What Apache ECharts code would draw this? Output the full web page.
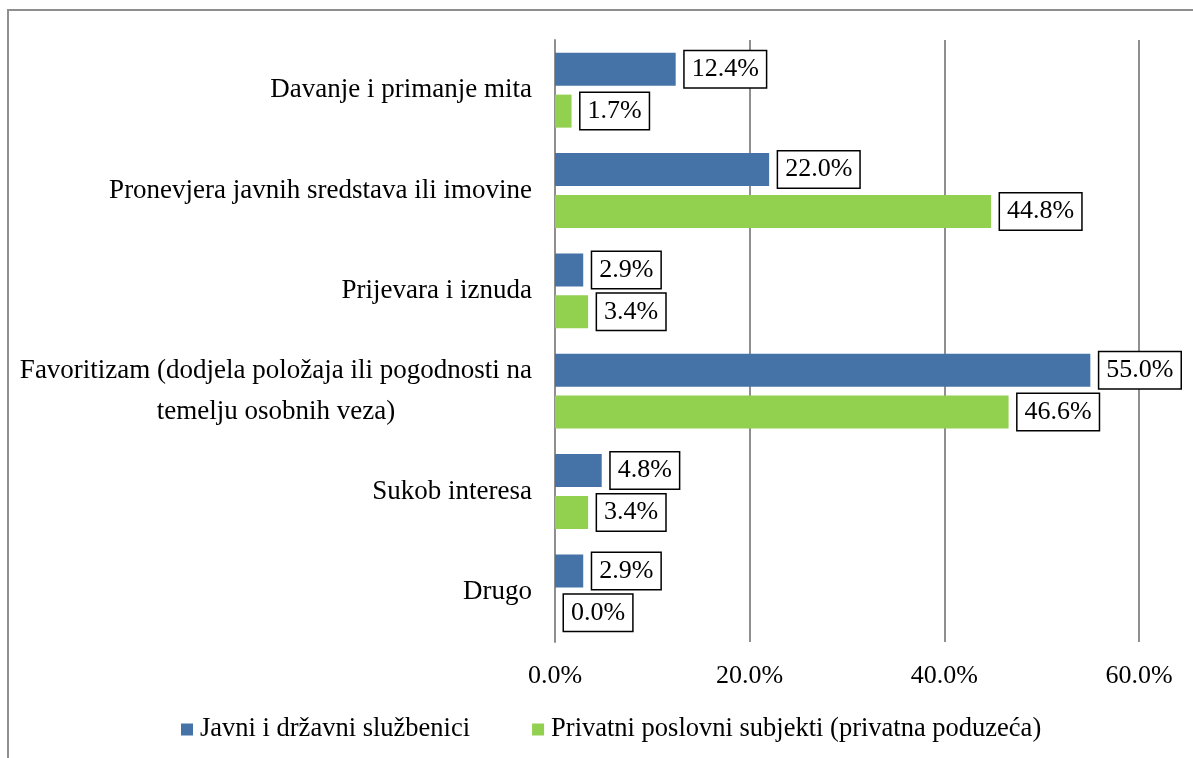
<!DOCTYPE html>
<html>
<head>
<meta charset="utf-8">
<script src="https://cdn.jsdelivr.net/npm/echarts@6/dist/echarts.min.js"></script>
<style>
  html, body { margin: 0; padding: 0; background: #fff; }
  #chart { width: 1193px; height: 758px; }
</style>
</head>
<body>
<div id="chart"></div>
<script>
// kategorije (odozgo prema dolje)
var categories = [
  'Davanje i primanje mita',
  'Pronevjera javnih sredstava ili imovine',
  'Prijevara i iznuda',
  'Favoritizam (dodjela položaja ili pogodnosti na\ntemelju osobnih veza)',
  'Sukob interesa',
  'Drugo'
];
var javni = [12.4, 22.0, 2.9, 55.0, 4.8, 2.9];
var privatni = [1.7, 44.8, 3.4, 46.6, 3.4, 0.0];
var seriesNames = ['Javni i državni službenici', 'Privatni poslovni subjekti (privatna poduzeća)'];
var xTicks = [0, 20, 40, 60];

var FONT = '"Liberation Serif", "Times New Roman", serif';

var labelBox = {
  show: true,
  position: 'right',
  distance: 9,
  formatter: function (p) { return p.value.toFixed(1) + '%'; },
  color: '#000',
  fontFamily: FONT,
  fontSize: 26,
  lineHeight: 26,
  backgroundColor: '#fff',
  borderColor: '#000',
  borderWidth: 1.5,
  padding: [5, 7, 5, 7]
};

var chart = echarts.init(document.getElementById('chart'));
var option = {
  animation: false,
  textStyle: { fontFamily: FONT },
  graphic: [{
    type: 'rect',
    shape: { x: 8, y: 10, width: 1300, height: 900 },
    style: { fill: 'none', stroke: '#8f8f8f', lineWidth: 2 },
    z: -1
  }],
  grid: { left: 555, right: 54, top: 40, bottom: 116 },
  legend: {
    bottom: 10,
    left: 176,
    icon: 'rect',
    itemWidth: 12,
    itemHeight: 12,
    itemGap: 62,
    textStyle: { fontFamily: FONT, fontSize: 26.5, color: '#000', padding: [0, 0, 0, 2] },
    data: seriesNames
  },
  xAxis: {
    type: 'value',
    min: xTicks[0],
    max: xTicks[xTicks.length - 1],
    interval: xTicks[1] - xTicks[0],
    axisLine: { show: false },
    axisTick: { show: false },
    splitLine: { show: true, lineStyle: { color: '#8f8f8f', width: 2 } },
    axisLabel: {
      margin: 21,
      color: '#000',
      fontFamily: FONT,
      fontSize: 26,
      formatter: function (v) { return v.toFixed(1) + '%'; }
    }
  },
  yAxis: {
    type: 'category',
    inverse: true,
    data: categories,
    axisLine: { show: true, lineStyle: { color: '#8f8f8f', width: 2 } },
    axisTick: { show: false },
    axisLabel: {
      margin: 23,
      color: '#000',
      fontFamily: FONT,
      fontSize: 27,
      formatter: function (v) {
        return v.split('\n').map(function (l) { return '{c|' + l + '}'; }).join('\n');
      },
      rich: {
        c: { align: 'center', fontFamily: FONT, fontSize: 27, lineHeight: 41, color: '#000' }
      }
    }
  },
  series: [
    {
      name: seriesNames[0],
      type: 'bar',
      data: javni,
      barWidth: 33,
      barGap: '27%',
      itemStyle: { color: '#4573a7' },
      label: labelBox
    },
    {
      name: seriesNames[1],
      type: 'bar',
      data: privatni,
      barWidth: 33,
      barGap: '27%',
      itemStyle: { color: '#92d050' },
      label: labelBox
    }
  ]
};
option && chart.setOption(option);
</script>
</body>
</html>
